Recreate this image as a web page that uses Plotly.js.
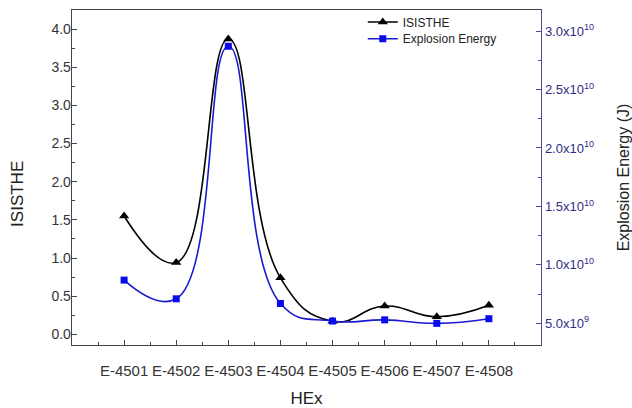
<!DOCTYPE html>
<html>
<head>
<meta charset="utf-8">
<script src="https://cdn.plot.ly/plotly-3.0.1.min.js"></script>
<style>html,body{margin:0;padding:0;background:#fff;}#chart{width:632px;height:408px;}</style>
</head>
<body>
<div id="chart"></div>
<script>
const categories = ["E-4501","E-4502","E-4503","E-4504","E-4505","E-4506","E-4507","E-4508"];
const isisthe = [1.55, 0.94, 3.87, 0.74, 0.17, 0.37, 0.23, 0.38];
const explosionEnergy = [8.7e9, 7.1e9, 2.87e10, 6.7e9, 5.2e9, 5.3e9, 5.0e9, 5.4e9];
const rightTickVals = [5e9, 1e10, 1.5e10, 2e10, 2.5e10, 3e10];
const rightTickText = ["5.0x10<sup>9</sup>","1.0x10<sup>10</sup>","1.5x10<sup>10</sup>","2.0x10<sup>10</sup>","2.5x10<sup>10</sup>","3.0x10<sup>10</sup>"];

const idx = categories.map((c, i) => i);
const FONT = "Liberation Sans, Arial, sans-serif";
const BLUE_AX = "#4a4aa8";
const BLUE_TXT = "#2e2e86";

const traces = [
  {
    x: idx, y: isisthe, name: "ISISTHE", type: "scatter", mode: "lines+markers",
    line: {color: "#000000", width: 1.6, shape: "spline", smoothing: 1.3},
    marker: {symbol: "triangle-up", size: 9, color: "#000000"},
    yaxis: "y", legend: "legend"
  },
  {
    x: idx, y: explosionEnergy, name: "Explosion Energy", type: "scatter", mode: "lines+markers",
    line: {color: "#1a1ad0", width: 1.6, shape: "spline", smoothing: 1.3},
    marker: {symbol: "square", size: 7, color: "#0a0aee"},
    yaxis: "y2", legend: "legend2"
  }
];

const legendBase = {xanchor: "left", yanchor: "middle", bgcolor: "rgba(0,0,0,0)",
  font: {family: FONT, size: 12, color: "#222"}, itemwidth: 30};

const layout = {
  width: 632, height: 408,
  margin: {l: 72, r: 91, t: 8, b: 63},
  paper_bgcolor: "#ffffff", plot_bgcolor: "#ffffff",
  font: {family: FONT, size: 13, color: "#333333"},
  showlegend: true,
  legend: Object.assign({}, legendBase, {x: 0.62, y: 0.964}),
  legend2: Object.assign({}, legendBase, {x: 0.62, y: 0.914}),
  xaxis: {
    range: [-1, 8], tickmode: "array", tickvals: idx, ticktext: categories,
    showgrid: false, zeroline: false, showline: true, linecolor: "#444", linewidth: 1.3,
    mirror: true, ticks: "inside", ticklen: 5, tickcolor: "#444",
    ticklabelstandoff: 12,
    tickfont: {family: FONT, size: 15, color: "#333"},
    minor: {tickmode: "array", tickvals: [-0.5,0.5,1.5,2.5,3.5,4.5,5.5,6.5,7.5], ticks: "inside", ticklen: 3, tickcolor: "#444"},
    title: {text: "HEx", font: {family: FONT, size: 17, color: "#222"}, standoff: 16}
  },
  yaxis: {
    range: [-0.14, 4.25], tickmode: "linear", tick0: 0, dtick: 0.5, tickformat: ".1f",
    showgrid: false, zeroline: false, showline: true, linecolor: "#444", linewidth: 1.3,
    ticks: "inside", ticklen: 5, tickcolor: "#444",
    ticklabelstandoff: -3,
    tickfont: {family: FONT, size: 14, color: "#333"},
    minor: {dtick: 0.25, ticks: "inside", ticklen: 3, tickcolor: "#444"}
  },
  yaxis2: {
    overlaying: "y", side: "right", range: [3.15e9, 3.18e10],
    tickmode: "array", tickvals: rightTickVals, ticktext: rightTickText,
    showgrid: false, zeroline: false, showline: true, linecolor: BLUE_AX, linewidth: 1.3,
    ticks: "inside", ticklen: 5, tickcolor: BLUE_AX,
    tickfont: {family: FONT, size: 13, color: BLUE_TXT},
    minor: {tickmode: "linear", tick0: 2.5e9, dtick: 5e9, ticks: "inside", ticklen: 3, tickcolor: BLUE_AX},
    title: {text: "Explosion Energy (J)", font: {family: FONT, size: 16, color: "#222"}, standoff: 25}
  },
  annotations: [{
    text: "ISISTHE", textangle: -90, xref: "paper", yref: "paper",
    x: (18 - 72) / 469, y: (345 - 193) / 337, xanchor: "center", yanchor: "middle",
    showarrow: false, font: {family: FONT, size: 17, color: "#222"}
  }]
};

Plotly.newPlot("chart", traces, layout, {displayModeBar: false, staticPlot: true});
</script>
</body>
</html>
